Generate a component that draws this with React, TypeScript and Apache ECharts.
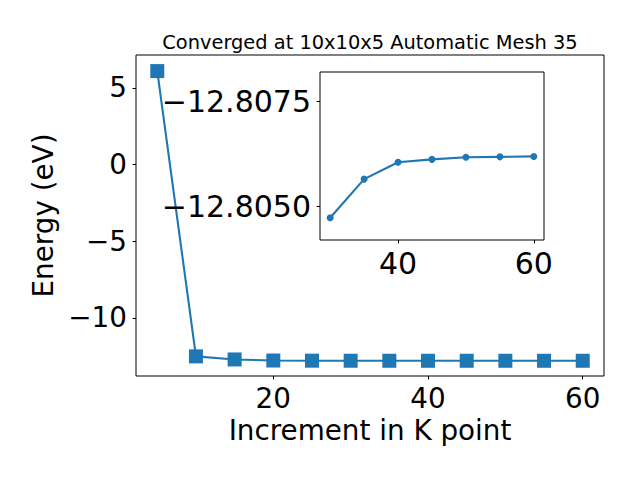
import React, { useEffect, useRef } from "react";
import * as echarts from "echarts";

const mainX = [5, 10, 15, 20, 25, 30, 35, 40, 45, 50, 55, 60];
const mainY = [6.1, -12.52, -12.72, -12.79, -12.8, -12.8047, -12.8057, -12.8061, -12.8061, -12.8062, -12.8062, -12.8062];
const mainXTicks = [20, 40, 60];
const mainYTicks = [-10, -5, 0, 5];

const insetX = [30, 35, 40, 45, 50, 55, 60];
const insetY = [-12.80473, -12.80565, -12.80605, -12.80612, -12.80617, -12.80618, -12.80619];
const insetXTicks = [40, 60];
const insetYTicks = [-12.8075, -12.805];

const titleText = "Converged at 10x10x5 Automatic Mesh 35";
const xName = "Increment in K point";
const yName = "Energy (eV)";

const FONT = "DejaVu Sans";
const BLUE = "#1f77b4";
const minus = (s: string) => s.replace("-", "\u2212");

export default function App() {
  const ref = useRef<HTMLDivElement>(null);
  useEffect(() => {
    if (!ref.current) return;
    const chart = echarts.init(ref.current, null, { renderer: "svg" });
    const labelStyle = { color: "#000", fontFamily: FONT, fontSize: 27.8 };
    const insetLabel = { color: "#000", fontFamily: FONT, fontSize: 30 };
    const tick = (vals: number[]) => ({ show: true, inside: false, length: 3.5, lineStyle: { color: "#000", width: 1 }, customValues: vals });
    const noLine = { show: false, onZero: false };
    chart.setOption({
      animation: false,
      backgroundColor: "#fff",
      graphic: [
        {
          type: "text",
          x: 370,
          y: 42,
          style: { text: titleText, fontFamily: FONT, fontSize: 19.4, fill: "#000", textAlign: "center", textVerticalAlign: "middle" },
          z: 100,
        },
      ],
      grid: [
        { left: 136, right: 36, top: 55, bottom: 104, show: true, borderColor: "#000", borderWidth: 1, backgroundColor: "#fff", z: 0 },
        { left: 320, right: 96, top: 72, bottom: 240, show: true, borderColor: "#000", borderWidth: 1, backgroundColor: "#fff", z: 5 },
      ],
      xAxis: [
        {
          type: "value", gridIndex: 0, min: 2.25, max: 62.75,
          splitLine: { show: false }, axisLine: noLine,
          axisTick: tick(mainXTicks),
          axisLabel: { ...labelStyle, margin: 8, customValues: mainXTicks, formatter: (v: number) => minus(String(v)) },
          name: xName, nameLocation: "middle", nameGap: 40,
          nameTextStyle: { ...labelStyle },
        },
        {
          type: "value", gridIndex: 1, min: 28.5, max: 61.5, z: 6,
          splitLine: { show: false }, axisLine: noLine,
          axisTick: tick(insetXTicks),
          axisLabel: { ...insetLabel, margin: 8, customValues: insetXTicks, formatter: (v: number) => minus(String(v)) },
        },
      ],
      yAxis: [
        {
          type: "value", gridIndex: 0, min: -13.8, max: 7.15,
          splitLine: { show: false }, axisLine: noLine,
          axisTick: tick(mainYTicks),
          axisLabel: { ...labelStyle, margin: 9, customValues: mainYTicks, formatter: (v: number) => minus(String(v)) },
          name: yName, nameLocation: "middle", nameGap: 76, nameRotate: 90,
          nameTextStyle: { ...labelStyle },
        },
        {
          type: "value", gridIndex: 1, min: -12.8082, max: -12.8042, inverse: true, z: 6,
          splitLine: { show: false }, axisLine: noLine,
          axisTick: tick(insetYTicks),
          axisLabel: { ...insetLabel, margin: 9, customValues: insetYTicks, formatter: (v: number) => minus(v.toFixed(4)) },
        },
      ],
      series: [
        {
          type: "line", xAxisIndex: 0, yAxisIndex: 0, z: 2,
          data: mainX.map((x, i) => [x, mainY[i]]),
          symbol: "rect", symbolSize: 14,
          lineStyle: { color: BLUE, width: 2.1 },
          itemStyle: { color: BLUE },
        },
        {
          type: "line", xAxisIndex: 1, yAxisIndex: 1, z: 7,
          data: insetX.map((x, i) => [x, insetY[i]]),
          symbol: "circle", symbolSize: 7,
          lineStyle: { color: BLUE, width: 2.1 },
          itemStyle: { color: BLUE },
        },
      ],
    });
    return () => chart.dispose();
  }, []);
  return <div ref={ref} style={{ position: "fixed", left: 0, top: 0, width: 640, height: 480 }} />;
}
